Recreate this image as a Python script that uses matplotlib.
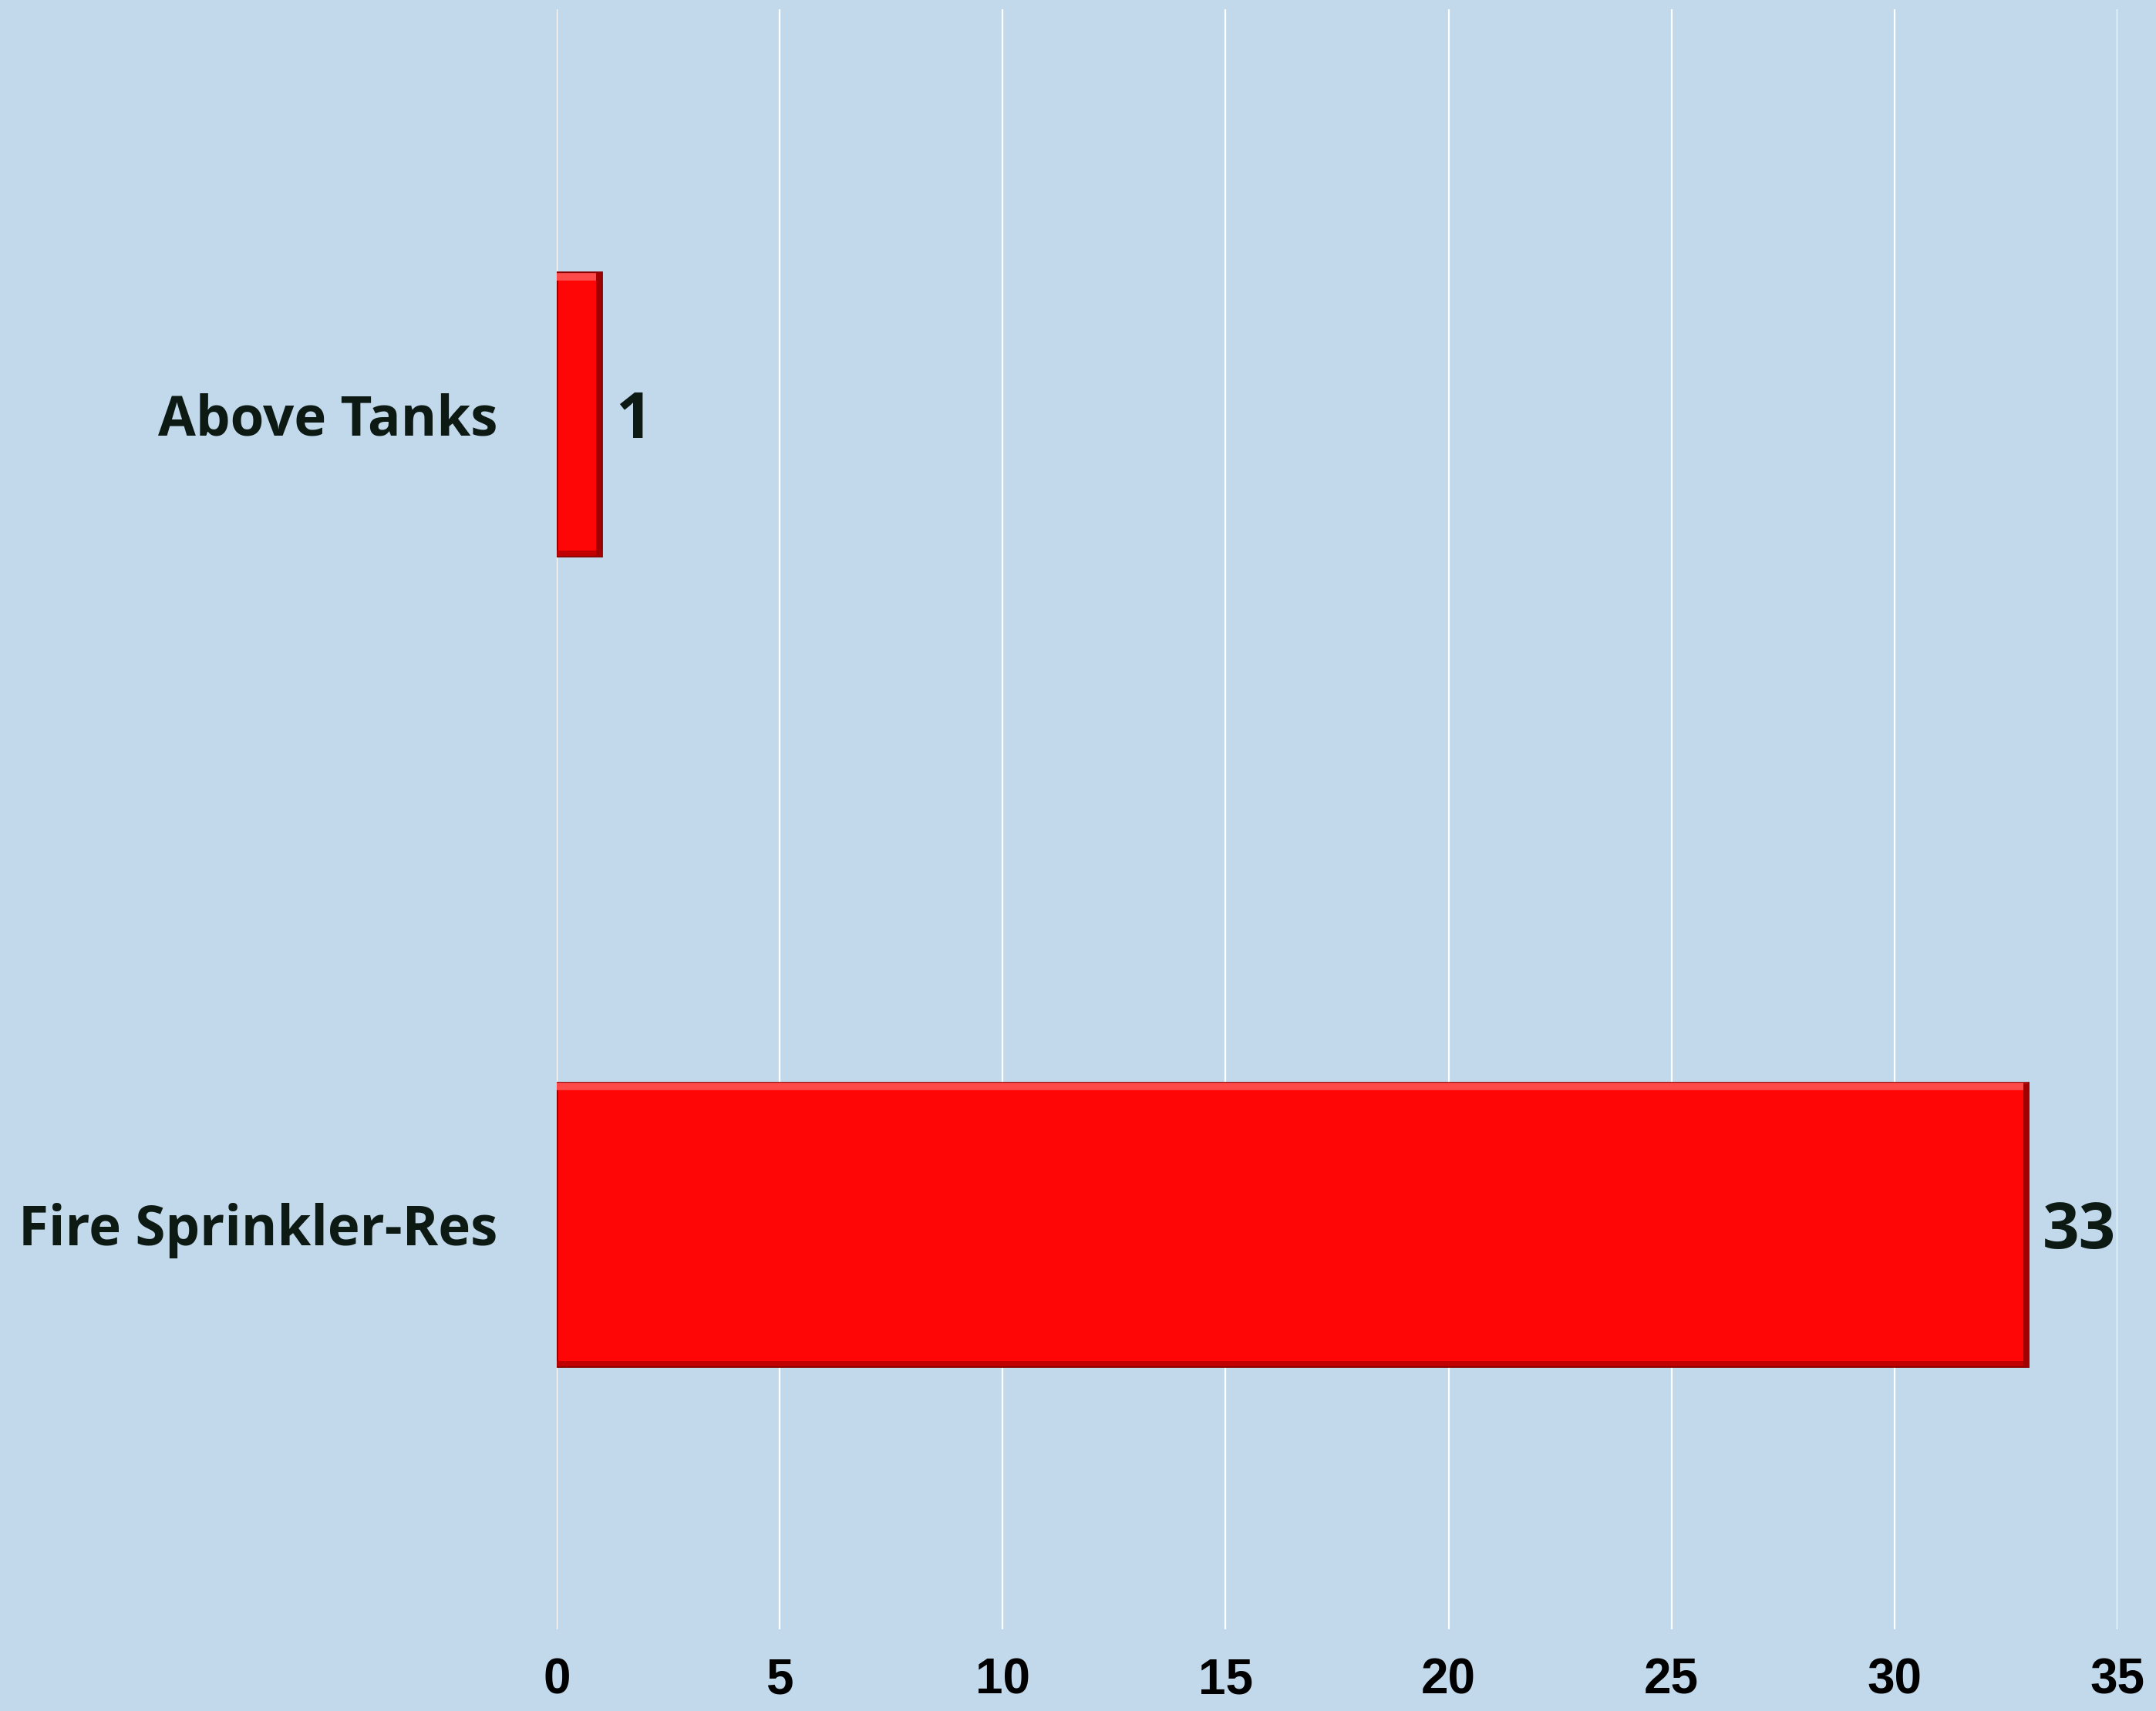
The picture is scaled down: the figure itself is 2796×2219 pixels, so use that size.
import matplotlib
matplotlib.use('Agg')
from matplotlib import pyplot as plt
import numpy as np

categories = ['Fire Sprinkler-Res', 'Above Tanks']
values = [33, 1]
xticks = [0, 5, 10, 15, 20, 25, 30, 35]

bg = '#C2D9EC'
bar_red = '#FF0606'
text_col = '#0D1A14'

fig = plt.figure(figsize=(27.96, 22.19), dpi=100, facecolor=bg)
ax = fig.add_axes([0.2582, 0.0478, 0.9821 - 0.2582, 0.9946 - 0.0478], facecolor=bg)

ypos = np.arange(len(categories))
bars = ax.barh(ypos, values, height=0.35, color=bar_red, edgecolor='#8A0000', linewidth=2, zorder=3)
# fake bevel: light top, dark right and bottom
for b in bars:
    x0, y0 = b.get_x(), b.get_y()
    w, h = b.get_width(), b.get_height()
    ax.plot([x0, x0 + w], [y0 + h * 0.985] * 2, color='#FF4A4A', lw=7, zorder=4, solid_capstyle='butt')
    ax.plot([x0, x0 + w], [y0 + h * 0.01] * 2, color='#C00000', lw=5, zorder=4, solid_capstyle='butt')
    ax.plot([x0 + w - 0.06, x0 + w - 0.06], [y0, y0 + h], color='#A00000', lw=5, zorder=4, solid_capstyle='butt')

for y, v in zip(ypos, values):
    ax.annotate(str(v), (v, y), xytext=(13, -7), textcoords='offset points',
                va='center', ha='left', fontsize=60, fontweight='bold',
                family=['Open Sans', 'DejaVu Sans'], color=text_col)

ax.set_xlim(0, 35)
ax.set_ylim(-0.5, 1.5)
ax.set_xticks(xticks)
ax.set_xticklabels([str(t) for t in xticks], fontsize=46, fontweight='bold',
                   family=['Liberation Sans Narrow', 'Liberation Sans'])
ax.tick_params(axis='x', length=0, pad=26)
ax.set_yticks(ypos)
ax.set_yticklabels(categories, fontsize=51, fontweight='bold',
                   family=['Open Sans', 'DejaVu Sans'], color=text_col)
ax.tick_params(axis='y', length=0, pad=55)
ax.grid(axis='x', color='white', lw=1.6, zorder=0)
ax.set_axisbelow(True)
for s in ax.spines.values():
    s.set_visible(False)

fig.savefig('out.png', dpi=100, facecolor=bg)
